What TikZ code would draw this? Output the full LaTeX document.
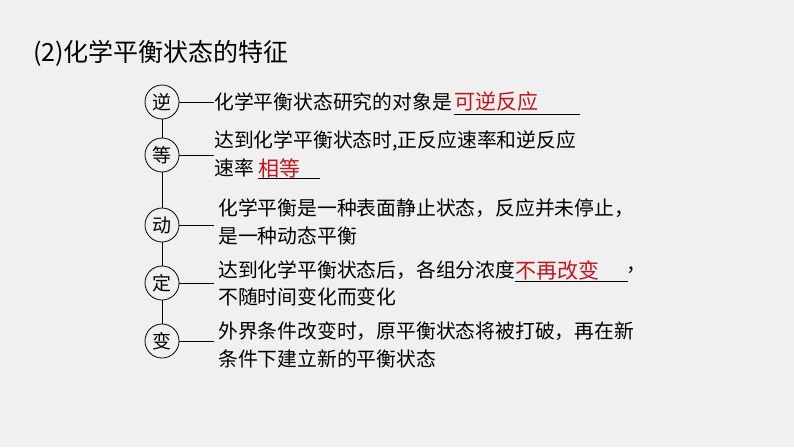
\documentclass[tikz,border=0pt]{standalone}
\usepackage{fontspec}
\newfontfamily\cjk{Noto Sans CJK SC}
\definecolor{bg}{HTML}{F0F0F0}
\definecolor{ans}{HTML}{C0161C}
\begin{document}
\begin{tikzpicture}[x=1pt,y=-1pt,
  circ/.style={draw,thick,circle,minimum size=34pt,inner sep=0pt,font=\cjk\fontsize{19}{19}\selectfont},
  txt/.style={anchor=west,inner sep=0pt,font=\cjk\fontsize{19.8}{28}\selectfont,align=left},
  red/.style={anchor=west,inner sep=0pt,font=\cjk\fontsize{21}{22}\selectfont,text=ans},
  ul/.style={thick}]
\fill[bg] (0,0) rectangle (794,447);
\useasboundingbox (0,0) rectangle (794,447);
\node[anchor=west,inner sep=0pt,font=\cjk\fontsize{25}{26}\selectfont] (title) at (33,53) {(2)化学平衡状态的特征};
\node[circ] (c1) at (162,102) {逆};
\node[circ] (c2) at (162,155) {等};
\node[circ] (c3) at (162,225) {动};
\node[circ] (c4) at (162,283) {定};
\node[circ] (c5) at (162,341) {变};
\draw[thick] (c1)--(c2) (c2)--(c3) (c3)--(c4) (c4)--(c5);
\coordinate (e1) at (214,102); \coordinate (e2) at (214,155);
\coordinate (e3) at (214,225); \coordinate (e4) at (214,283);
\coordinate (e5) at (214,341);
\foreach \i in {1,...,5} \draw[thick] (c\i.east) -- (e\i);
\node[txt] (t1) at (214,102) {化学平衡状态研究的对象是};
\node[red] (a1) at ([xshift=2pt]t1.east) {可逆反应};
\coordinate (u1) at (580,114);
\draw[ul] (a1.west |- u1) -- (u1);
\node[txt] (t2) at (214,141) {达到化学平衡状态时,正反应速率和逆反应};
\node[txt] (t2b) at (214,168) {速率};
\node[red] (a2) at ([xshift=4pt]t2b.east) {相等};
\coordinate (u2) at (320,178);
\draw[ul] (a2.west |- u2) -- (u2);
\node[txt] (t3) at (218,222) {化学平衡是一种表面静止状态，反应并未停止，\\是一种动态平衡};
\node[txt] (t4) at (218,270) {达到化学平衡状态后，各组分浓度};
\node[red] (a4) at (t4.east) {不再改变};
\coordinate (u4) at (628,281);
\draw[ul] (a4.west |- u4) -- (u4);
\node[txt] (cm) at (626,270) {，};
\node[txt] (t4b) at (218,297) {不随时间变化而变化};
\node[txt] (t5) at (218,345) {外界条件改变时，原平衡状态将被打破，再在新\\条件下建立新的平衡状态};
\end{tikzpicture}
\end{document}
